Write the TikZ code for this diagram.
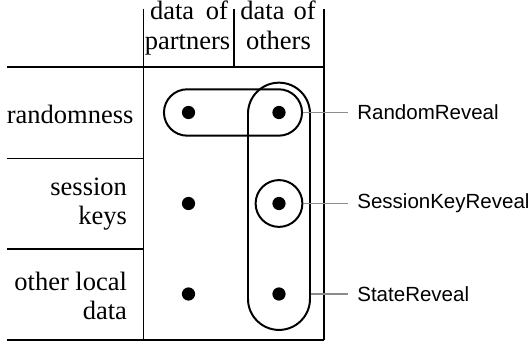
\documentclass[tikz,border=0pt]{standalone}
\usepackage{fontspec}
\setmainfont{Liberation Serif}
\newfontfamily\labfont{Liberation Sans}
\begin{document}
\begin{tikzpicture}[x=0.37736pt,y=-0.37736pt,font=\fontsize{10}{12}\selectfont]
\tikzset{
  tline/.style={line width=0.45pt},
  dot/.style={circle, fill, inner sep=0pt, minimum size=5pt},
  grp/.style={draw, line width=0.75pt, inner sep=0pt},
  lab/.style={font=\labfont\fontsize{7.74}{9}\selectfont, anchor=west},
  conn/.style={draw=black!45, line width=0.4pt},
  rowlab/.style={anchor=base east, inner sep=0pt},
  head/.style={anchor=base, inner sep=0pt}
}
\useasboundingbox (0,0) rectangle (530,343);
% table lines
\draw[tline] (143.3,9) -- (143.3,340);
\draw[tline] (234,9) -- (234,67);
\draw[tline] (324,9) -- (324,340);
\draw[tline] (7,67) -- (324,67);
\draw[tline] (7,158.3) -- (143.3,158.3);
\draw[tline] (7,249) -- (143.3,249);
\draw[tline] (7,340) -- (324,340);
% headers
\node[head] (h1a) at (189,20) {data\hspace{4.4pt}of};
\node[head] (h1b) at (187.5,50) {partners};
\node[head] (h2a) at (278,20) {data\hspace{3.4pt}of};
\node[head] (h2b) at (278.5,50) {others};
% row labels
\node[rowlab] (r1) at (134,123.3) {randomness};
\node[rowlab] (r2a) at (127.5,195.5) {session};
\node[rowlab] (r2b) at (127.5,225) {keys};
\node[rowlab] (r3a) at (127.5,290.5) {other local};
\node[rowlab] (r3b) at (127.5,320) {data};
% dots
\node[dot] (d11) at (188.5,112.5) {};
\node[dot] (d12) at (279,112.5) {};
\node[dot] (d21) at (188.5,203.5) {};
\node[dot] (d22) at (279,203.5) {};
\node[dot] (d31) at (188.5,294) {};
\node[dot] (d32) at (279,294) {};
% groups
\node[grp, rounded corners=8.75pt, minimum width=52.1pt, minimum height=17.5pt] (rbox) at (233,112.5) {};
\node[grp, rounded corners=11.7pt, minimum width=23.4pt, minimum height=93.3pt] (cap) at (279,206.3) {};
\node[grp, circle, minimum size=17.66pt] (sk) at (279,203.5) {};
% labels
\node[lab] (lrr) at (348,112.5) {RandomReveal};
\node[lab] (lsk) at (348,203.5) {SessionKeyReveal};
\node[lab] (lsr) at (348,294) {StateReveal};
\draw[conn] (rbox.east) -- (lrr.west);
\draw[conn] (sk.east) -- (lsk.west);
\draw[conn] (cap.east |- d32) -- (lsr.west);
\end{tikzpicture}
\end{document}
